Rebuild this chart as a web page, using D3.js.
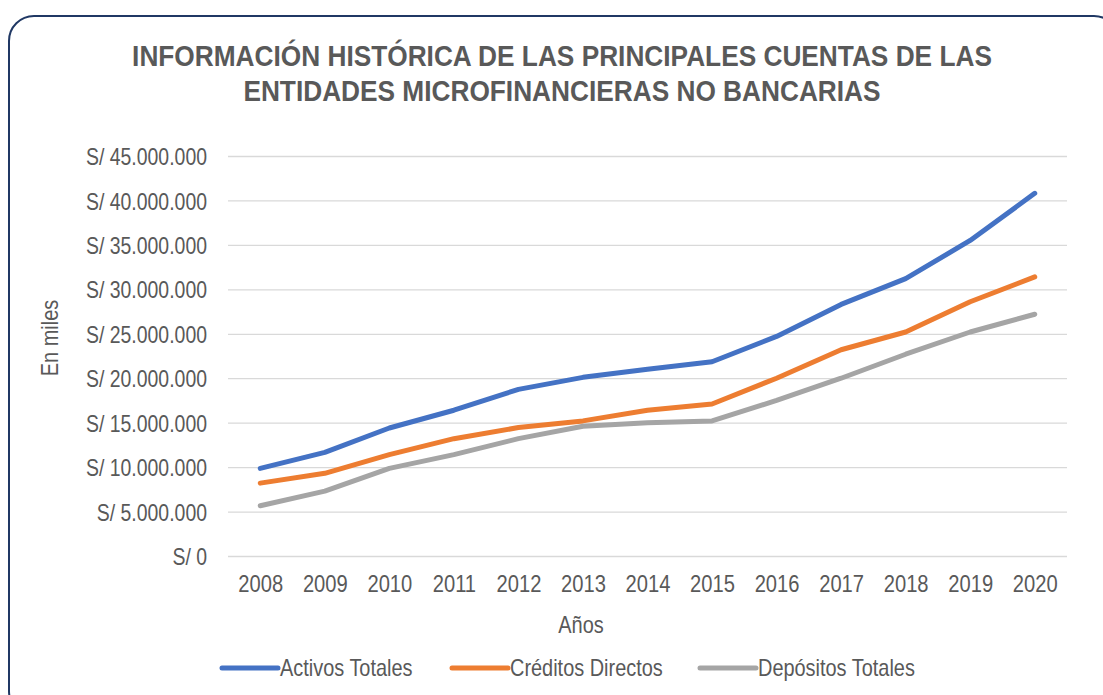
<!DOCTYPE html>
<html>
<head>
<meta charset="utf-8">
<script src="https://cdn.jsdelivr.net/npm/d3@7"></script>
<style>
body { margin: 0; background: #ffffff; }
text { font-family: "Liberation Sans Narrow", "Arial Narrow", "Liberation Sans", Arial, sans-serif; fill: #595959; }
</style>
</head>
<body>
<div id="chart"></div>
<script>
// valores en miles de soles
var years = ["2008", "2009", "2010", "2011", "2012", "2013", "2014", "2015", "2016", "2017", "2018", "2019", "2020"];
var activosTotales = [9860000, 11650000, 14400000, 16400000, 18750000, 20100000, 21000000, 21850000, 24700000, 28300000, 31200000, 35500000, 40800000];
var creditosDirectos = [8200000, 9300000, 11400000, 13200000, 14450000, 15200000, 16400000, 17100000, 20000000, 23200000, 25200000, 28600000, 31400000];
var depositosTotales = [5650000, 7300000, 9860000, 11400000, 13200000, 14600000, 15000000, 15200000, 17500000, 20000000, 22700000, 25200000, 27200000];
var seriesNames = ["Activos Totales", "Créditos Directos", "Depósitos Totales"];
var seriesColors = ["#4472c4", "#ed7d31", "#a5a5a5"];
var yTicks = [0, 5000000, 10000000, 15000000, 20000000, 25000000, 30000000, 35000000, 40000000, 45000000];
var titleLines = ["INFORMACIÓN HISTÓRICA DE LAS PRINCIPALES CUENTAS DE LAS", "ENTIDADES MICROFINANCIERAS NO BANCARIAS"];

var W = 1103, H = 695;
var margin = {top: 156, right: 36, bottom: 139, left: 228};
var width = W - margin.left - margin.right,
	height = H - margin.top - margin.bottom;

// no hay fuente "narrow" instalada: se comprime el texto a lo ancho
function narrow(sel, factor){
	sel.each(function(){
		var len = this.getComputedTextLength();
		d3.select(this)
			.attr("textLength", len * factor)
			.attr("lengthAdjust", "spacingAndGlyphs");
	});
}

var svg = d3.select("#chart").append("svg")
	.attr("width", W)
	.attr("height", H);

// marco redondeado
svg.append("rect")
	.attr("x", 9).attr("y", 16)
	.attr("width", 1110).attr("height", 700)
	.attr("rx", 25).attr("ry", 25)
	.style("fill", "#ffffff")
	.style("stroke", "#203864")
	.style("stroke-width", 2);

svg.selectAll(".title")
	.data(titleLines)
	.enter().append("text")
	.attr("class", "title")
	.attr("x", 562)
	.attr("y", function(d, i){ return 66 + i*35; })
	.attr("text-anchor", "middle")
	.style("font-size", "29px")
	.style("font-weight", "bold")
	.text(function(d){ return d; })
	.call(narrow, 0.905);

var g = svg.append("g")
	.attr("transform", "translate(" + margin.left + "," + margin.top + ")");

var x = d3.scalePoint().domain(years).range([0, width]).padding(0.5);
var y = d3.scaleLinear().domain([0, 45000000]).range([height, 0]);

var fmt = function(v){
	return "S/ " + d3.format(",")(v).replace(/,/g, ".");
};

var yAxis = g.append("g")
	.call(d3.axisLeft(y).tickValues(yTicks).tickSize(-width).tickFormat(fmt));
yAxis.attr("font-family", null).attr("font-size", null);
yAxis.select(".domain").remove();
yAxis.selectAll(".tick line").style("stroke", "#d9d9d9").style("stroke-width", 1.3);
yAxis.selectAll(".tick text")
	.attr("x", -21)
	.attr("dy", "0.36em")
	.style("font-size", "24px")
	.style("fill", "#595959")
	.call(narrow, 0.81);

var xAxis = g.append("g")
	.attr("transform", "translate(0," + height + ")")
	.call(d3.axisBottom(x).tickSize(0));
xAxis.attr("font-family", null).attr("font-size", null);
xAxis.select(".domain").remove();
xAxis.selectAll(".tick text")
	.attr("y", 36)
	.attr("dy", null)
	.style("font-size", "24px")
	.style("fill", "#595959")
	.call(narrow, 0.84);

var allSeries = [activosTotales, creditosDirectos, depositosTotales];

var line = d3.line()
	.x(function(d, i){ return x(years[i]); })
	.y(function(d){ return y(d); });

g.selectAll(".serie")
	.data(allSeries)
	.enter().append("path")
	.attr("class", "serie")
	.attr("d", line)
	.style("fill", "none")
	.style("stroke", function(d, i){ return seriesColors[i]; })
	.style("stroke-width", 5)
	.style("stroke-linecap", "round")
	.style("stroke-linejoin", "round");

// titulos de ejes
svg.append("text")
	.attr("x", 581)
	.attr("y", 633)
	.attr("text-anchor", "middle")
	.style("font-size", "24px")
	.text("Años")
	.call(narrow, 0.83);

svg.append("text")
	.attr("transform", "translate(58,338) rotate(-90)")
	.attr("text-anchor", "middle")
	.style("font-size", "24px")
	.text("En miles")
	.call(narrow, 0.83);

// leyenda
var legendX = [222, 452, 700];
var legend = svg.selectAll(".legend")
	.data(seriesNames)
	.enter().append("g")
	.attr("class", "legend")
	.attr("transform", function(d, i){ return "translate(" + legendX[i] + ",668)"; });

legend.append("line")
	.attr("x1", 0).attr("x2", 56)
	.attr("y1", 0).attr("y2", 0)
	.style("stroke", function(d, i){ return seriesColors[i]; })
	.style("stroke-width", 5)
	.style("stroke-linecap", "round");

legend.append("text")
	.attr("x", 58)
	.attr("y", 8)
	.style("font-size", "24px")
	.text(function(d){ return d; })
	.call(narrow, 0.83);
</script>
</body>
</html>
